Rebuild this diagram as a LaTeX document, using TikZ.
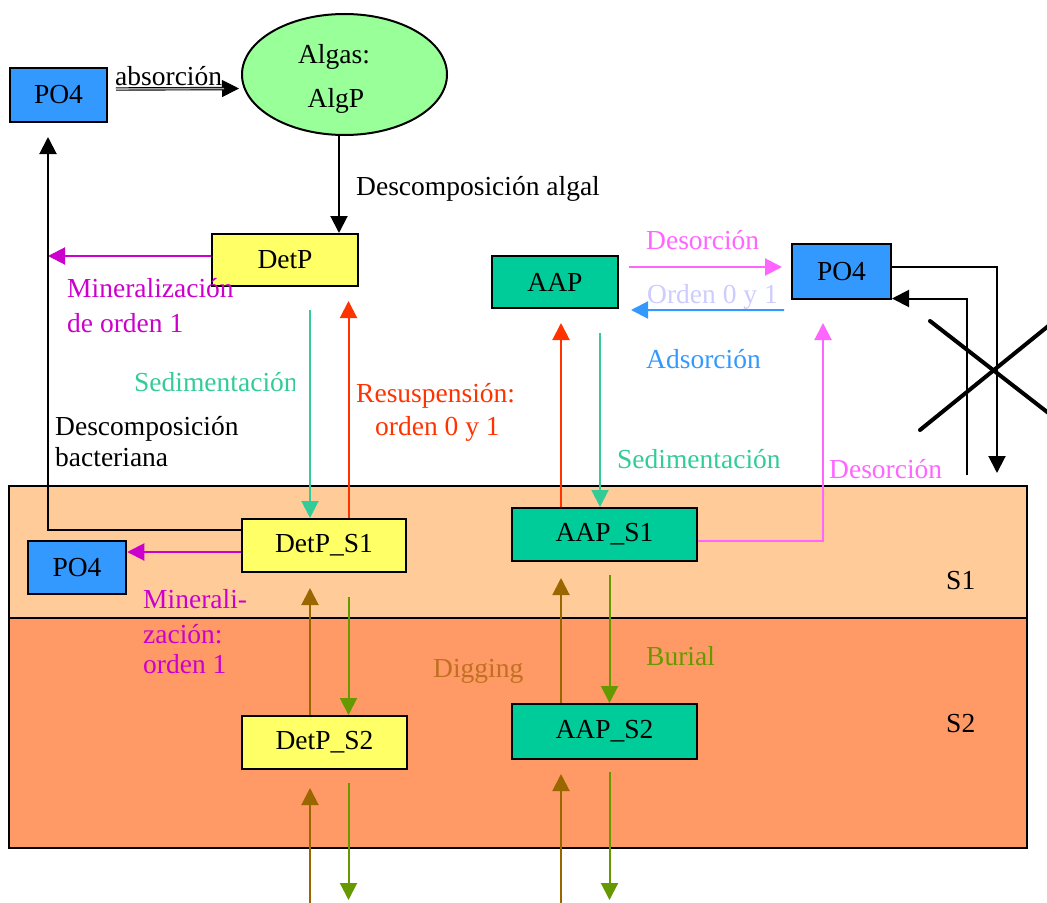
\documentclass[tikz,border=0pt]{standalone}
\usepackage{fontspec}
\setmainfont{Liberation Serif}
\usetikzlibrary{arrows.meta,shapes.geometric,calc}
\definecolor{cPO}{HTML}{3399FF}
\definecolor{cAlg}{HTML}{99FF99}
\definecolor{cDet}{HTML}{FFFF66}
\definecolor{cAAP}{HTML}{00CC99}
\definecolor{cSone}{HTML}{FFCC99}
\definecolor{cStwo}{HTML}{FF9966}
\definecolor{cMag}{HTML}{CC00CC}
\definecolor{cDes}{HTML}{FF66FF}
\definecolor{cAds}{HTML}{3399FF}
\definecolor{cOrd}{HTML}{CCCCFF}
\definecolor{cSed}{HTML}{33CC99}
\definecolor{cRes}{HTML}{FF3300}
\definecolor{cDig}{HTML}{996600}
\definecolor{cDigT}{HTML}{C07020}
\definecolor{cBur}{HTML}{669900}
\begin{document}
\begin{tikzpicture}[x=1bp,y=-1bp,
  every node/.style={font=\fontsize{27.5bp}{33bp}\selectfont},
  box/.style={draw=black, line width=2bp, inner sep=0pt},
  lbl/.style={anchor=base west, inner sep=0pt},
  headed/.style={-{Triangle[length=17bp,width=17bp]}},
  flow/.style={line width=2bp, headed},
]
\fill[white] (0,0) rectangle (1047,903);
\useasboundingbox (0,0) rectangle (1047,903);

% sediment layers
\draw[fill=cSone, line width=2bp] (9,486) rectangle (1027,618);
\draw[fill=cStwo, line width=2bp] (9,618) rectangle (1027,848);

% compartments
\node[box, fill=cPO, minimum width=97bp, minimum height=54bp] (po4a) at (58.5,95) {PO4};
\node[box, ellipse, fill=cAlg, minimum width=205bp, minimum height=121bp] (alg) at (344.5,74.5) {};
\node[anchor=base, inner sep=0pt] (algA) at (334,63) {Algas:};
\node[anchor=base, inner sep=0pt] (algB) at (336,107) {AlgP};
\node[box, fill=cDet, minimum width=146bp, minimum height=52bp] (detp) at (285,260) {DetP};
\node[box, fill=cAAP, minimum width=126bp, minimum height=52bp] (aap) at (555,282) {AAP};
\node[box, fill=cPO, minimum width=99bp, minimum height=55bp] (po4b) at (841.5,271.5) {PO4};
\node[box, fill=cDet, minimum width=164bp, minimum height=53bp] (detps1) at (324,545.5) {DetP\_S1};
\node[box, fill=cPO, minimum width=98.5bp, minimum height=53bp] (po4c) at (77,567.5) {PO4};
\node[box, fill=cAAP, minimum width=185bp, minimum height=53bp] (aaps1) at (604.5,534.5) {AAP\_S1};
\node[box, fill=cDet, minimum width=165bp, minimum height=53bp] (detps2) at (324.5,742.5) {DetP\_S2};
\node[box, fill=cAAP, minimum width=185bp, minimum height=55bp] (aaps2) at (604.5,731.5) {AAP\_S2};

% attachment points on the compartments
\coordinate (algOut) at ($(alg.south)+(-5.5,0)$);
\coordinate (detpL) at ($(detp.west)+(0,-4)$);
\coordinate (ds1L) at ($(detps1.west)+(0,-15.5)$);
\coordinate (ds1M) at ($(detps1.west)+(0,6.5)$);
\coordinate (ds1R) at ($(detps1.north)+(24.5,0)$);
\coordinate (as1R) at ($(aaps1.north)+(-43.5,0)$);
\coordinate (as1S) at ($(aaps1.north)+(-4.5,0)$);
\coordinate (as1E) at ($(aaps1.east)+(0,6.5)$);
\coordinate (po4bS) at ($(po4b.south)+(-18.5,0)$);
\coordinate (aapE) at ($(aap.east)+(0,-15)$);
\coordinate (ds1Dig) at ($(detps1.south)+(-14,0)$);
\coordinate (ds1Bur) at ($(detps1.south)+(24.5,0)$);
\coordinate (as1Dig) at ($(aaps1.south)+(-43.5,0)$);
\coordinate (as1Bur) at ($(aaps1.south)+(5,0)$);

% absorption by algae (double shaft)
\coordinate (absA) at ($(po4a.east)+(8,-6)$);
\coordinate (absB) at ($(alg.west)+(-2,14)$);
\draw[line width=1bp, headed] (absA) -- (absB);
\draw[line width=0.9bp, double=gray!70, double distance=1.6bp, shorten >=15bp] (absA) -- (absB);

% algal decomposition
\draw[flow] (algOut) -- (algOut |- detp.north);

% water column mineralization and bacterial decomposition
\coordinate (corner) at (48,530);
\draw[flow, cMag] (detpL) -- (detpL -| corner);
\draw[flow, shorten >=14bp] (ds1L) -| (corner |- po4a.south);

% sediment mineralization
\draw[flow, cMag] (ds1M) -- (ds1M -| po4c.east);

% sedimentation / resuspension of detritus
\coordinate (sedTop) at (310,310);
\draw[flow, cSed] (sedTop) -- (sedTop |- detps1.north);
\draw[flow, cRes, shorten >=14bp] (ds1R) -- (ds1R |- detp.south);

% sedimentation / resuspension of AAP
\draw[flow, cRes, shorten >=14bp] (as1R) -- (as1R |- aap.south);
\draw[flow, cSed, shorten <=24bp] (as1S |- aap.south) -- (as1S);

% desorption from sediment AAP
\draw[flow, cDes, shorten >=23bp] (as1E) -| (po4bS);

% desorption / adsorption in water
\draw[flow, cDes, shorten <=10bp, shorten >=9bp] (aapE) -- (aapE -| po4b.west);
\draw[flow, cAds] ($(po4b.west)+(-7,38.5)$) -- ($(aap.east)+(12,28)$);

% exchange with the sediment (crossed out)
\coordinate (xdown) at (997,473);
\coordinate (xup) at (967,475);
\draw[flow] ($(po4b.east)+(0,-4.5)$) -| (xdown);
\draw[flow] (xup) |- ($(po4b.east)+(0,27)$);
\draw[line width=4bp, line cap=round] (930,321) -- (1060,422);
\draw[line width=4bp, line cap=round] (920,430) -- (1060,316.5);

% digging and burial, detritus column
\coordinate (dBot) at (310,903);
\coordinate (dEnd) at (348.5,900);
\draw[flow, cDig, shorten >=15bp] (ds1Dig |- detps2.north) -- (ds1Dig);
\draw[flow, cBur, shorten <=24bp] (ds1Bur) -- (ds1Bur |- detps2.north);
\draw[flow, cDig, shorten >=18bp] (dBot) -- (dBot |- detps2.south);
\draw[flow, cBur, shorten <=13bp] (dEnd |- detps2.south) -- (dEnd);

% digging and burial, AAP column
\coordinate (aBot) at (561,903);
\coordinate (aEnd) at (609.5,900);
\draw[flow, cDig, shorten >=16bp] (as1Dig |- aaps2.north) -- (as1Dig);
\draw[flow, cBur, shorten <=13bp] (as1Bur) -- (as1Bur |- aaps2.north);
\draw[flow, cDig, shorten >=14bp] (aBot) -- (aBot |- aaps2.south);
\draw[flow, cBur, shorten <=12bp] (aEnd |- aaps2.south) -- (aEnd);

% labels
\node[lbl] (tAbs) at (115,85) {absorción};
\node[lbl] (tDalg) at (356,195) {Descomposición algal};
\node[lbl, text=cMag] (tMinA) at (67,297) {Mineralización};
\node[lbl, text=cMag] (tMinB) at (67,332) {de orden 1};
\node[lbl, text=cDes] (tDesA) at (646,249) {Desorción};
\node[lbl, text=cOrd] (tOrd) at (647,303) {Orden 0 y 1};
\node[lbl, text=cAds] (tAds) at (646,368) {Adsorción};
\begin{scope}
\clip (0,340) rectangle (294,410);
\node[lbl, text=cSed] (tSedA) at (134,391) {Sedimentación};
\end{scope}
\node[lbl, text=cRes] (tResA) at (356,402) {Resuspensión:};
\node[lbl, text=cRes] (tResB) at (375,435) {orden 0 y 1};
\node[lbl] (tBacA) at (55,435) {Descomposición};
\node[lbl] (tBacB) at (55,466) {bacteriana};
\node[lbl, text=cSed] (tSedB) at (617,468) {Sedimentación};
\node[lbl, text=cDes] (tDesB) at (829,478) {Desorción};
\node[lbl, text=cMag] (tMsA) at (143,608) {Minerali-};
\node[lbl, text=cMag] (tMsB) at (143,643) {zación:};
\node[lbl, text=cMag] (tMsC) at (143,673) {orden 1};
\node[lbl, text=cDigT] (tDig) at (433,677) {Digging};
\node[lbl, text=cBur] (tBur) at (646,665) {Burial};
\node[lbl] (tSone) at (946,589) {S1};
\node[lbl] (tStwo) at (946,732) {S2};
\end{tikzpicture}
\end{document}
